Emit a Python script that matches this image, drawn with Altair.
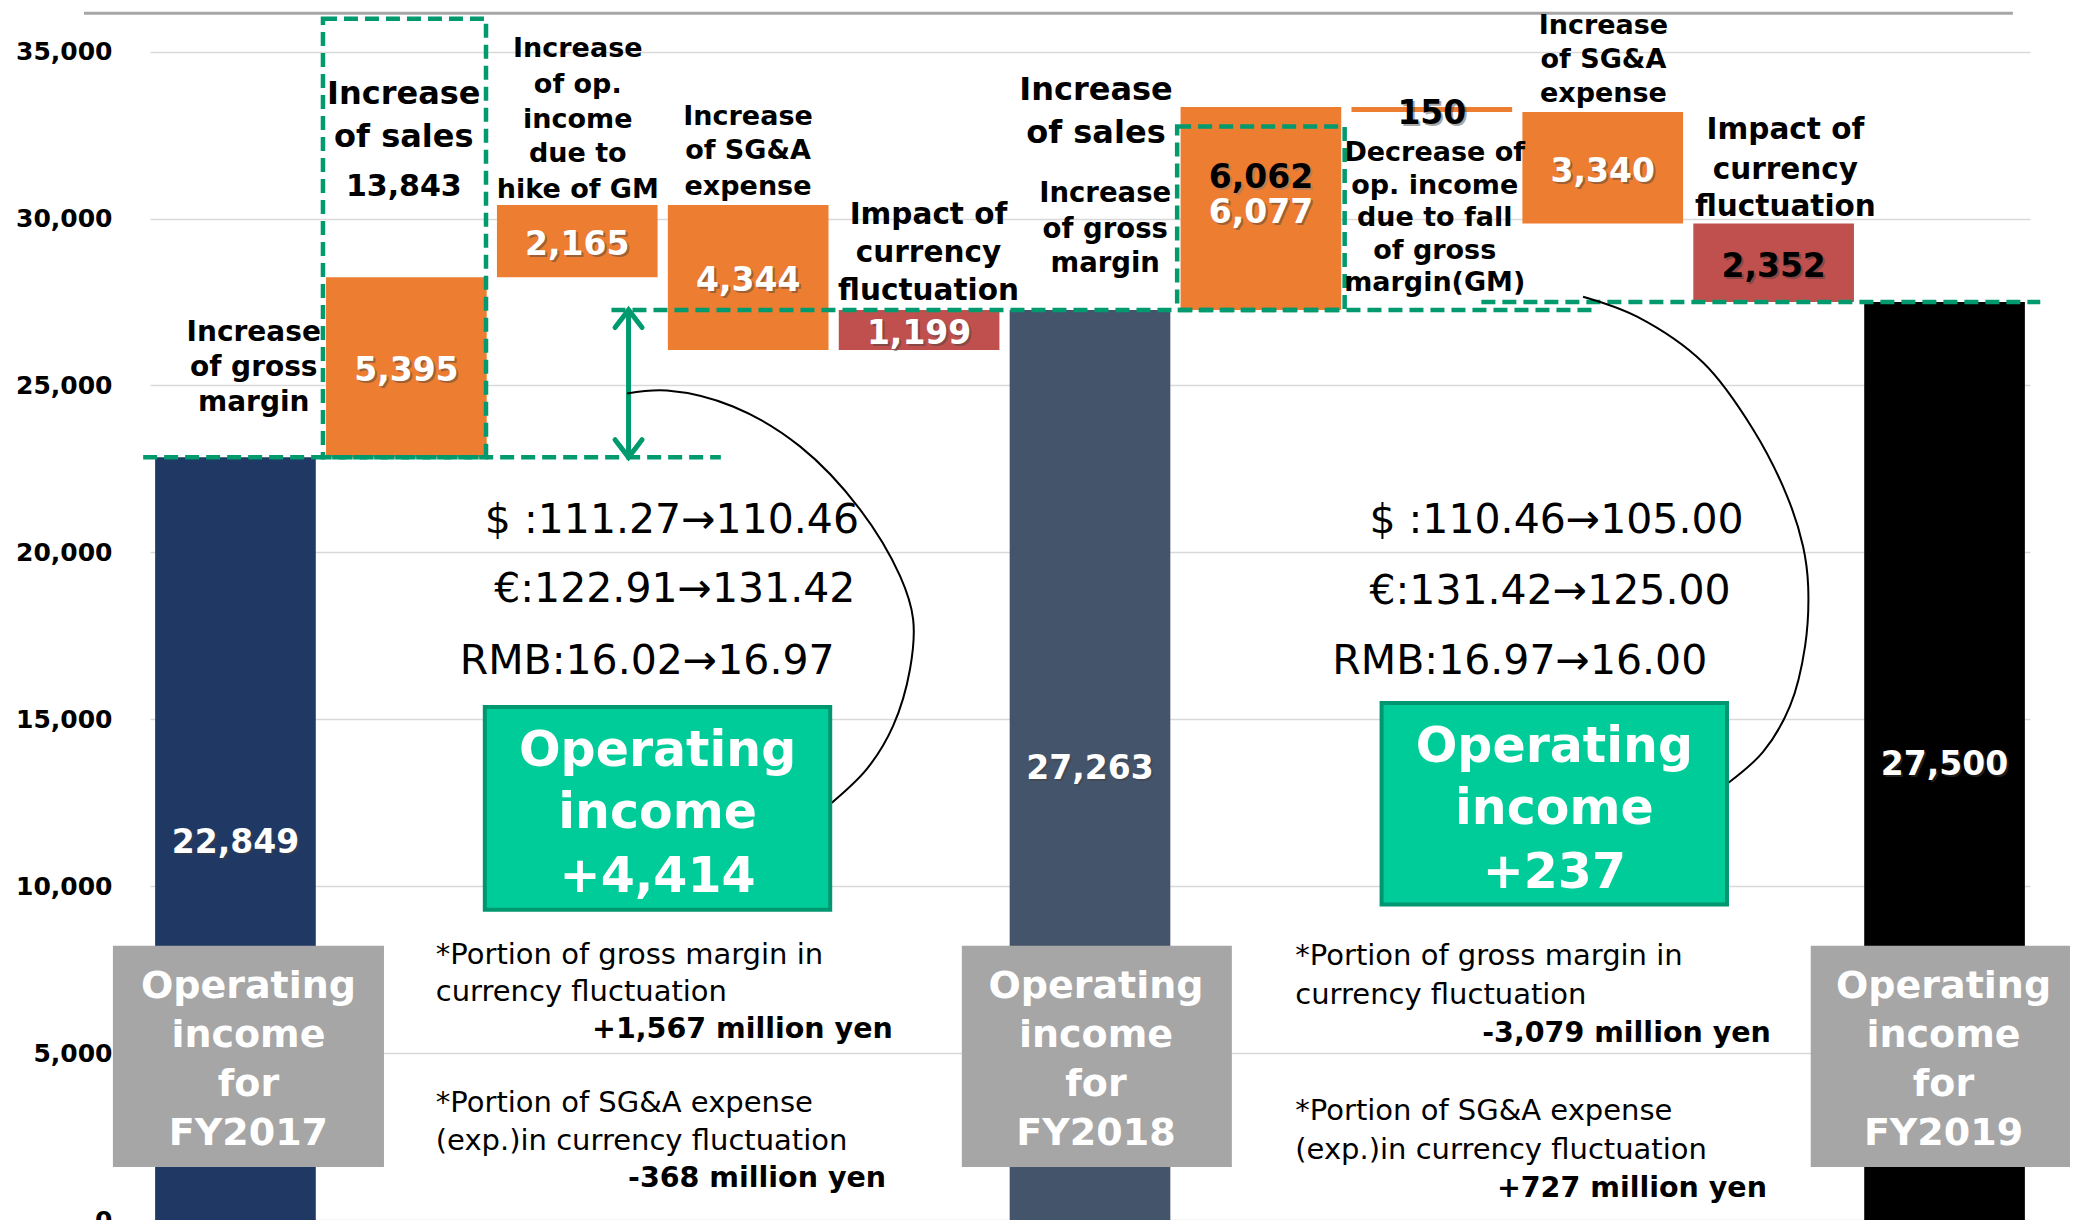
import altair as alt
import pandas as pd

# ---------------- waterfall values ----------------
step_names = ["FY2017", "Increase of sales", "Hike of GM", "SG&A expense 2018",
              "Currency 2018", "FY2018", "Increase of gross margin", "Fall of GM",
              "SG&A expense 2019", "Currency 2019", "FY2019"]
step_total = [True, False, False, False, False, True, False, False, False, False, True]
step_values = [22849, 5395, 2165, -4344, 1199, 27263, 6077, -150, -3340, -2352, 27500]
step_labels = ["22,849", "5,395", "2,165", "4,344", "1,199", "27,263",
               "6,077", "150", "3,340", "2,352", "27,500"]
step_kind = ["fy2017", "up", "up", "up", "fx", "fy2018", "up", "up", "up", "fx", "fy2019"]
label_dark = [False, False, False, False, False, False, False, True, False, True, False]
y_ticks = [0, 5000, 10000, 15000, 20000, 25000, 30000, 35000]

kind_domain = ["fy2017", "fy2018", "fy2019", "up", "fx"]
kind_colors = ["#203864", "#44546A", "#000000", "#ED7D31", "#C0504D"]

rows = []
running = 0
for i, (nm, tot, v, lb, kd, dk) in enumerate(zip(step_names, step_total, step_values,
                                                  step_labels, step_kind, label_dark)):
    if tot:
        s, e = 0, v
    else:
        s, e = running, running + v
    running = e
    rows.append(dict(slot=i, name=nm, start=s, end=e, label=lb, kind=kd,
                     lcolor="#000000" if dk else "#FFFFFF"))
bars_df = pd.DataFrame(rows)

# ---------------- annotation layout ----------------
GREEN = "#009A6E"
TDY = 4
xs = alt.Scale(domain=[0, 11], nice=False, zero=False)
ys = alt.Scale(domain=[0, 36309], nice=False, zero=False)

yaxis = alt.Axis(values=y_ticks, format=",d", labelExpr="format(datum.value, ',d')",
                 labelFont="DejaVu Sans", labelFontSize=25, labelFontWeight="bold",
                 labelColor="#000000", labelPadding=38, domain=False, ticks=False,
                 grid=True, gridColor="#D9D9D9", gridWidth=1.5, title="")


def X(f):
    return alt.X(f, type="quantitative", scale=xs, axis=None)


def Y(f):
    return alt.Y(f, type="quantitative", scale=ys, axis=yaxis)


bars = alt.Chart(bars_df).transform_calculate(
    x0="datum.slot + 0.03", x1="datum.slot + 0.97"
).mark_rect().encode(
    x=X("x0"), x2="x1",
    y=Y("start"), y2="end",
    color=alt.Color("kind:N", scale=alt.Scale(domain=kind_domain, range=kind_colors), legend=None),
)

# top slide underline
top_df = pd.DataFrame({"x0": [-0.386], "x1": [10.90], "y": [36155]})
top_line = alt.Chart(top_df).mark_rule(color="#A6A6A6", strokeWidth=3).encode(
    x=X("x0"), x2="x1", y=Y("y"))

# dashed green lines
hl_x0 = [-0.04, 2.70, 7.79]
hl_x1 = [3.34, 8.455, 11.06]
hl_y = [22849, 27263, 27500]
hl_df = pd.DataFrame({"x0": hl_x0, "x1": hl_x1, "y": hl_y})
hlines = alt.Chart(hl_df).mark_rule(color=GREEN, strokeWidth=4.5, strokeDash=[14, 7]).encode(
    x=X("x0"), x2="x1", y=Y("y"))

box_df = pd.DataFrame({"x0": [1.012, 6.01], "x1": [1.966, 6.99],
                       "y0": [22849, 27263], "y1": [35988, 32760]})
dboxes = alt.Chart(box_df).mark_rect(filled=False, stroke=GREEN, strokeWidth=4.5,
                                     strokeDash=[14, 7]).encode(
    x=X("x0"), x2="x1", y=Y("y0"), y2="y1")

# double arrow
arr_df = pd.DataFrame({"x": [2.80], "y0": [22849], "y1": [27263]})
arrow_line = alt.Chart(arr_df).mark_rule(color=GREEN, strokeWidth=5).encode(
    x=X("x"), y=Y("y0"), y2="y1")
head_up = alt.Chart(arr_df).mark_point(shape="M -1 1.3 L 0 0 L 1 1.3", filled=False, size=729,
                                       strokeWidth=5, color=GREEN, opacity=1,
                                       strokeCap="round").encode(x=X("x"), y=Y("y1"))
head_dn = alt.Chart(arr_df).mark_point(shape="M -1 -1.3 L 0 0 L 1 -1.3", filled=False, size=729,
                                       strokeWidth=5, color=GREEN, opacity=1,
                                       strokeCap="round").encode(x=X("x"), y=Y("y0"))

# connecting arcs
arc_left_x = [2.791, 3.025, 3.411, 3.803, 4.154, 4.389, 4.465, 4.447, 4.348, 4.195, 3.961]
arc_left_y = [24761, 24850, 24372, 23176, 21292, 19288, 18002, 16507, 14803, 13517, 12380]
arc_right_x = [8.385, 8.701, 9.087, 9.380, 9.579, 9.672, 9.702, 9.684, 9.596, 9.438, 9.228]
arc_right_y = [27661, 27063, 25688, 23684, 21681, 20185, 18989, 17195, 15401, 14025, 13068]
arc_df = pd.DataFrame({
    "x": arc_left_x + arc_right_x,
    "y": arc_left_y + arc_right_y,
    "arc": ["L"] * len(arc_left_x) + ["R"] * len(arc_right_x),
    "i": list(range(len(arc_left_x))) + list(range(len(arc_right_x))),
})
arcs = alt.Chart(arc_df).mark_line(color="#000000", strokeWidth=2,
                                   interpolate="catmull-rom").encode(
    x=X("x"), y=Y("y"), detail="arc:N", order="i:Q")

# green result boxes
gb_df = pd.DataFrame({"x0": [1.959, 7.206], "x1": [3.980, 9.227],
                      "y0": [9292, 9451], "y1": [15370, 15489]})
gboxes = alt.Chart(gb_df).mark_rect(fill="#00CC99", stroke="#009670", strokeWidth=4).encode(
    x=X("x0"), x2="x1", y=Y("y0"), y2="y1")

# gray FY boxes
fy_df = pd.DataFrame({"x0": [-0.217, 4.75, 9.717], "x1": [1.369, 6.33, 11.29],
                      "y0": [1585, 1585, 1585], "y1": [8219, 8219, 8219]})
fyboxes = alt.Chart(fy_df).mark_rect(fill="#A6A6A6").encode(
    x=X("x0"), x2="x1", y=Y("y0"), y2="y1")


def text_layer(rows_, font="DejaVu Sans", weight="bold", align="center", color="#000000",
               dx=0, dy=0, opacity=1.0):
    df = pd.DataFrame(rows_, columns=["t", "x", "y", "s"])
    return alt.Chart(df).mark_text(font=font, fontWeight=weight, align=align, baseline="middle",
                                   color=color, dx=dx, dy=dy + TDY, opacity=opacity).encode(
        x=X("x"), y=Y("y"), text=alt.Text("t:N"), size=alt.Size("s:Q", scale=None))


label_rows = [
    ("Increase", 0.607, 26691, 28), ("of gross", 0.607, 25658, 28), ("margin", 0.607, 24586, 28),
    ("Increase", 1.485, 33842, 32), ("of sales", 1.485, 32571, 32), ("13,843", 1.485, 31061, 30),
    ("Increase", 2.503, 35192, 27), ("of op.", 2.503, 34120, 27), ("income", 2.503, 33087, 27),
    ("due to", 2.503, 32054, 27), ("hike of GM", 2.503, 30982, 27),
    ("Increase", 3.499, 33167, 27), ("of SG&A", 3.499, 32134, 27), ("expense", 3.499, 31061, 27),
    ("Impact of", 4.555, 30227, 29.5), ("currency", 4.555, 29075, 29.5),
    ("fluctuation", 4.555, 27962, 29.5),
    ("Increase", 5.535, 33961, 32), ("of sales", 5.535, 32690, 32),
    ("Increase", 5.589, 30862, 27.5), ("of gross", 5.589, 29790, 27.5), ("margin", 5.589, 28757, 27.5),
    ("Decrease of", 7.517, 32094, 27), ("op. income", 7.517, 31101, 27),
    ("due to fall", 7.517, 30147, 27), ("of gross", 7.517, 29154, 27), ("margin(GM)", 7.517, 28201, 27),
    ("Increase", 8.504, 35900, 27), ("of SG&A", 8.504, 34880, 27), ("expense", 8.504, 33860, 27),
    ("Impact of", 9.569, 32769, 29.5), ("currency", 9.569, 31577, 29.5),
    ("fluctuation", 9.569, 30465, 29.5),
]
labels = text_layer(label_rows)

# value labels on bars (from data) with shadow
num_base = alt.Chart(bars_df).transform_calculate(
    xc="datum.slot + 0.5", ym="(datum.start + datum.end) / 2")
num_shadow = num_base.mark_text(font="DejaVu Sans", fontWeight="bold", fontSize=33,
                                baseline="middle", align="center", dx=2, dy=2 + TDY,
                                color="#404040", opacity=0.45).encode(
    x=X("xc"), y=Y("ym"), text="label:N")
num_text = num_base.mark_text(font="DejaVu Sans", fontWeight="bold", fontSize=33,
                              baseline="middle", align="center", dy=TDY).encode(
    x=X("xc"), y=Y("ym"), text="label:N", color=alt.Color("lcolor:N", scale=None))
extra_rows = [("6,062", 6.5, 31339, 33)]
extra_shadow = text_layer(extra_rows, color="#808080", dx=2, dy=2, opacity=0.45)
extra_text = text_layer(extra_rows)

# green box texts
gb_rows = [("Operating", 2.97, 14177, 49), ("income", 2.97, 12310, 49), ("+4,414", 2.97, 10404, 49),
           ("Operating", 8.217, 14297, 49), ("income", 8.217, 12430, 49), ("+237", 8.217, 10523, 49)]
gb_text = text_layer(gb_rows, color="#FFFFFF")

# gray box texts
fy_rows = []
for cx, yr in [(0.576, "FY2017"), (5.535, "FY2018"), (10.494, "FY2019")]:
    fy_rows += [("Operating", cx, 7106, 38), ("income", cx, 5637, 38),
                ("for", cx, 4167, 38), (yr, cx, 2697, 38)]
fy_text = text_layer(fy_rows, color="#FFFFFF")

# exchange rates
fx_rows = [("$ :111.27→110.46", 1.959, 21050, 41), ("€:122.91→131.42", 2.014, 18985, 41),
           ("RMB:16.02→16.97", 1.812, 16840, 41),
           ("$ :110.46→105.00", 7.135, 21050, 41), ("€:131.42→125.00", 7.135, 18945, 41),
           ("RMB:16.97→16.00", 6.918, 16840, 41)]
fx_text = text_layer(fx_rows, weight="normal", align="left")

# footnotes
note_rows = [("*Portion of gross margin in", 1.672, 8060, 29), ("currency fluctuation", 1.672, 6948, 29),
             ("*Portion of SG&A expense", 1.672, 3611, 29),
             ("(exp.)in currency fluctuation", 1.672, 2499, 29),
             ("*Portion of gross margin in", 6.701, 8020, 29), ("currency fluctuation", 6.701, 6869, 29),
             ("*Portion of SG&A expense", 6.701, 3373, 29),
             ("(exp.)in currency fluctuation", 6.701, 2221, 29)]
note_text = text_layer(note_rows, weight="normal", align="left")
note_bold_rows = [("+1,567 million yen", 4.346, 5836, 28.5), ("-368 million yen", 4.307, 1387, 28.5),
                  ("-3,079 million yen", 9.484, 5717, 28.5), ("+727 million yen", 9.461, 1069, 28.5)]
note_bold = text_layer(note_bold_rows, align="right")

chart = alt.layer(
    bars, top_line, hlines, dboxes, arrow_line, head_up, head_dn, arcs,
    gboxes, fyboxes, labels, num_shadow, num_text, extra_shadow, extra_text,
    gb_text, fy_text, fx_text, note_text, note_bold,
).properties(
    width=1880, height=1212,
    autosize=alt.AutoSizeParams(type="none"),
    padding={"left": 142, "top": 0, "right": 40, "bottom": 0},
    background="#FFFFFF",
).configure_view(strokeWidth=0)

chart.save("out.html", embed_options={"renderer": "svg", "actions": False})
